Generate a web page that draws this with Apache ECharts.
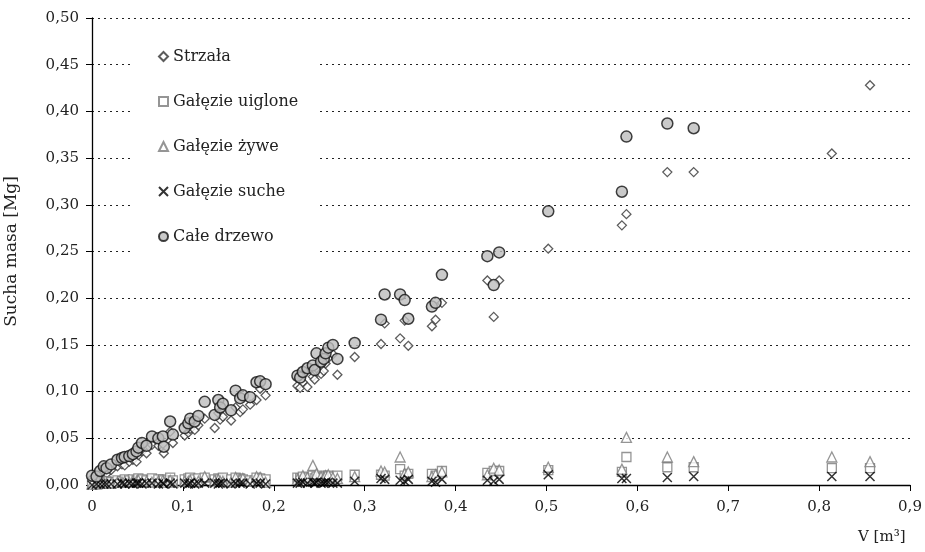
<!DOCTYPE html>
<html><head><meta charset="utf-8">
<script src="https://cdn.jsdelivr.net/npm/echarts@6/dist/echarts.min.js"></script>
<style>html,body{margin:0;background:#fff}#c{width:925px;height:552px}</style>
</head><body><div id="c"></div>
<script>
// V [m3] for each tree
const volume = [0.000,0.005,0.009,0.013,0.016,0.021,0.028,0.033,0.036,0.041,0.045,0.049,0.051,0.055,0.060,0.066,0.073,0.078,0.079,0.086,0.089,
0.102,0.106,0.108,0.113,0.117,0.124,0.135,0.139,0.141,0.144,0.153,0.158,0.163,0.166,0.174,0.181,0.185,0.191,
0.226,0.229,0.232,0.237,0.243,0.245,0.247,0.252,0.255,0.257,0.260,0.265,0.270,0.289,
0.318,0.322,0.339,0.344,0.348,0.374,0.378,0.385,
0.435,0.442,0.448,0.502,0.583,0.588,0.633,0.662,0.814,0.856];
// Strzała
const strzala = [0.007,0.006,0.011,0.013,0.012,0.016,0.020,0.022,0.021,0.025,0.027,0.025,0.032,0.036,0.034,0.043,0.042,0.044,0.034,0.057,0.045,
0.053,0.056,0.060,0.059,0.064,0.071,0.061,0.077,0.070,0.073,0.069,0.083,0.078,0.081,0.086,0.091,0.103,0.096,
0.106,0.104,0.110,0.105,0.116,0.113,0.125,0.119,0.122,0.130,0.136,0.140,0.118,0.137,
0.151,0.173,0.157,0.176,0.149,0.170,0.177,0.195,
0.219,0.180,0.219,0.253,0.278,0.290,0.335,0.335,0.355,0.428];
// Gałęzie uiglone
const uiglone = [0.002,0.002,0.003,0.004,0.004,0.003,0.005,0.004,0.006,0.005,0.006,0.005,0.007,0.006,0.005,0.007,0.006,0.006,0.005,0.008,0.005,
0.006,0.007,0.008,0.006,0.007,0.008,0.006,0.007,0.006,0.008,0.006,0.008,0.007,0.006,0.005,0.008,0.007,0.006,
0.008,0.007,0.009,0.008,0.010,0.007,0.009,0.008,0.010,0.009,0.010,0.009,0.010,0.011,
0.011,0.010,0.017,0.010,0.012,0.012,0.010,0.015,
0.013,0.015,0.015,0.016,0.014,0.030,0.019,0.019,0.018,0.018];
// Gałęzie żywe
const zywe = [0.001,0.001,0.002,0.003,0.002,0.002,0.003,0.003,0.004,0.003,0.004,0.004,0.005,0.003,0.004,0.003,0.004,0.005,0.003,0.005,0.003,
0.004,0.004,0.005,0.003,0.004,0.009,0.005,0.006,0.004,0.004,0.003,0.008,0.006,0.007,0.004,0.009,0.008,0.003,
0.006,0.005,0.010,0.008,0.021,0.006,0.012,0.009,0.008,0.010,0.011,0.008,0.007,0.009,
0.015,0.014,0.030,0.012,0.014,0.009,0.011,0.014,
0.011,0.018,0.016,0.019,0.017,0.051,0.030,0.025,0.030,0.025];
// Gałęzie suche
const suche = [0.000,0.001,0.001,0.001,0.001,0.001,0.001,0.002,0.001,0.002,0.001,0.002,0.002,0.001,0.002,0.002,0.001,0.002,0.001,0.002,0.001,
0.002,0.001,0.002,0.001,0.002,0.002,0.002,0.001,0.002,0.002,0.001,0.002,0.002,0.002,0.001,0.002,0.002,0.001,
0.002,0.002,0.003,0.002,0.003,0.002,0.003,0.002,0.002,0.003,0.003,0.002,0.002,0.004,
0.007,0.006,0.005,0.004,0.006,0.004,0.003,0.006,
0.005,0.004,0.006,0.011,0.007,0.007,0.008,0.009,0.009,0.009];
// Całe drzewo
const cale = [0.010,0.009,0.015,0.020,0.018,0.022,0.027,0.029,0.030,0.031,0.033,0.036,0.040,0.045,0.042,0.052,0.050,0.052,0.041,0.068,0.054,
0.061,0.066,0.071,0.068,0.074,0.089,0.075,0.091,0.083,0.087,0.080,0.101,0.093,0.096,0.094,0.110,0.111,0.108,
0.117,0.115,0.121,0.125,0.128,0.123,0.141,0.132,0.135,0.141,0.147,0.150,0.135,0.152,
0.177,0.204,0.204,0.198,0.178,0.191,0.195,0.225,
0.245,0.214,0.249,0.293,0.314,0.373,0.387,0.382,null,null];

const seriesNames = ['Strzała','Gałęzie uiglone','Gałęzie żywe','Gałęzie suche','Całe drzewo'];
const yTicks = {min:0, max:0.5, interval:0.05};
const xTicks = {min:0, max:0.9, interval:0.1};

const pairs = arr => volume.map((v,i)=>[v, arr[i]]).filter(p=>p[1]!==null);
const FONT = 'DejaVu Serif';

const chart = echarts.init(document.getElementById('c'), null, {renderer:'canvas'});
chart.setOption({
  animation:false,
  backgroundColor:'#fff',
  grid:{left:92, right:15, top:18, bottom:67, outerBoundsMode:'none', containLabel:false},
  xAxis:{type:'value', min:xTicks.min, max:xTicks.max, interval:xTicks.interval,
    axisLine:{lineStyle:{color:'#000', width:1.3}},
    axisTick:{show:true, length:6, lineStyle:{color:'#000'}},
    axisLabel:{margin:15, color:'#222', fontFamily:FONT, fontSize:15,
      formatter:v=> v===0 ? '0' : v.toFixed(1).replace('.',',')},
    splitLine:{show:false}},
  yAxis:{type:'value', min:yTicks.min, max:yTicks.max, interval:yTicks.interval,
    name:'Sucha masa [Mg]', nameLocation:'middle', nameGap:72,
    nameTextStyle:{color:'#222', fontFamily:FONT, fontSize:17},
    axisLine:{show:true, lineStyle:{color:'#000', width:1.3}},
    axisTick:{show:true, length:6, lineStyle:{color:'#000'}},
    axisLabel:{margin:13, color:'#222', fontFamily:FONT, fontSize:15,
      formatter:v=> v.toFixed(2).replace('.',',')},
    splitLine:{show:true, lineStyle:{color:'#222', type:[2,4], width:1}}},
  legend:{orient:'vertical', left:130, top:37, padding:[11,20,16,28],
    backgroundColor:'#fff', itemGap:28, itemWidth:9, itemHeight:9,
    textStyle:{fontFamily:FONT, fontSize:16, color:'#222', lineHeight:17},
    data:seriesNames},
  graphic:[{type:'text', left:858, top:530, style:{text:'V [m³]', font:'15px "DejaVu Serif"', fill:'#222'}}],
  series:[
    {name:seriesNames[0], type:'scatter', symbol:'diamond', symbolSize:9, data:pairs(strzala),
      itemStyle:{color:'#fff', borderColor:'#333', borderWidth:1.3}},
    {name:seriesNames[1], type:'scatter', symbol:'rect', symbolSize:9, data:pairs(uiglone),
      itemStyle:{color:'#fff', borderColor:'#7a7a7a', borderWidth:1.3}},
    {name:seriesNames[2], type:'scatter', symbol:'triangle', symbolSize:10, data:pairs(zywe),
      itemStyle:{color:'#fff', borderColor:'#7a7a7a', borderWidth:1.3}},
    {name:seriesNames[3], type:'scatter', symbol:'path://M0,0L10,10M10,0L0,10', symbolSize:9, data:pairs(suche),
      itemStyle:{color:'#000', borderColor:'#000', borderWidth:1.5}},
    {name:seriesNames[4], type:'scatter', symbol:'circle', symbolSize:11, data:pairs(cale),
      itemStyle:{color:'#bdbdbd', borderColor:'#111', borderWidth:1.5}}
  ]
});
</script>
</body></html>
